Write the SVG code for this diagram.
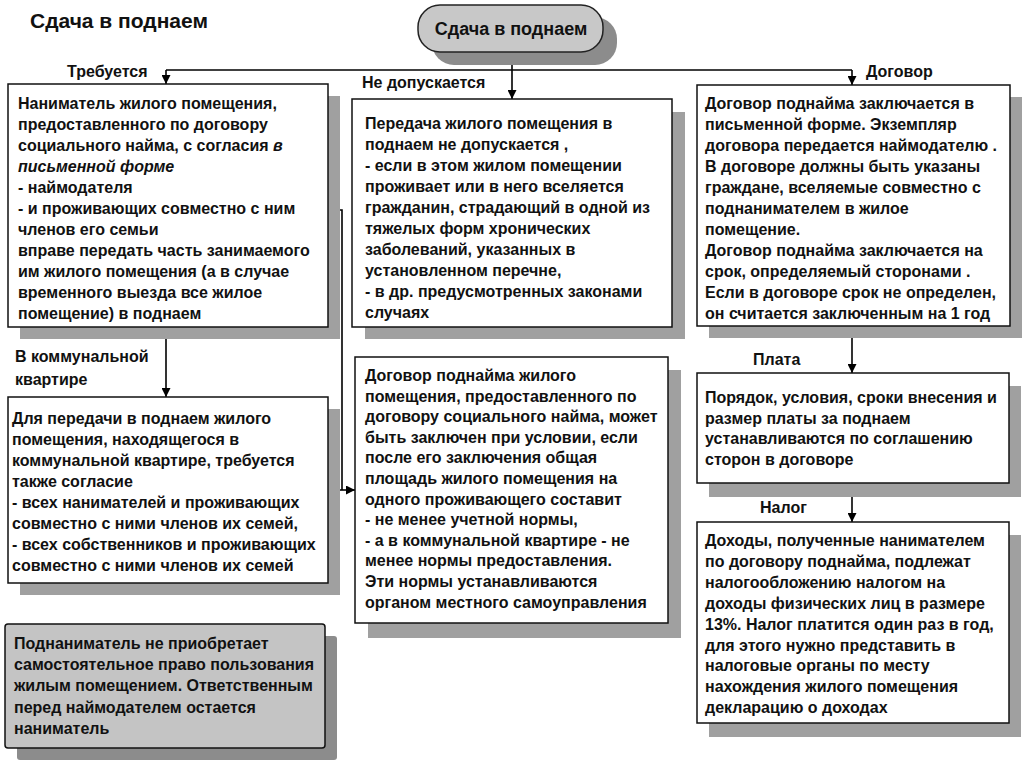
<svg xmlns="http://www.w3.org/2000/svg" width="1024" height="767" viewBox="0 0 1024 767">
<defs>
<marker id="arr" viewBox="0 0 10 10" refX="10" refY="5" markerWidth="9" markerHeight="9" markerUnits="userSpaceOnUse" orient="auto">
<path d="M0,0 L10,5 L0,10 z" fill="#000"/>
</marker>
</defs>
<style>
text{font-family:"Liberation Sans",Arial,sans-serif;font-weight:bold;fill:#111;}
.t{font-size:16px;}
.lbl{font-size:16px;}
.box{fill:#fff;stroke:#111;stroke-width:1.5;}
.shd{fill:#a0a0a0;}
.gbox{fill:#c4c4c4;stroke:#111;stroke-width:1.5;}
.ln{fill:none;stroke:#000;stroke-width:1.6;}
.it{font-style:italic;}
</style>
<rect width="1024" height="767" fill="#fff"/>
<text x="30" y="28" font-size="21">Сдача в поднаем</text>

<g id="connectors">
<line class="ln" x1="512" y1="52" x2="512" y2="99" marker-end="url(#arr)"/>
<line class="ln" x1="166" y1="70" x2="852" y2="70"/>
<line class="ln" x1="166" y1="70" x2="166" y2="84" marker-end="url(#arr)"/>
<line class="ln" x1="852" y1="70" x2="852" y2="85" marker-end="url(#arr)"/>
<line class="ln" x1="166" y1="327" x2="166" y2="397" marker-end="url(#arr)"/>
<polyline class="ln" points="328,210 342,210 342,490"/>
<line class="ln" x1="328" y1="490" x2="355" y2="490" marker-end="url(#arr)"/>
<line class="ln" x1="852" y1="326" x2="852" y2="373" marker-end="url(#arr)"/>
<line class="ln" x1="852" y1="483" x2="852" y2="522" marker-end="url(#arr)"/>
<text class="lbl" x="67" y="77">Требуется</text>
<text class="lbl" x="362" y="88">Не допускается</text>
<text class="lbl" x="866" y="77">Договор</text>
<text class="lbl" x="15" y="362">В коммунальной</text>
<text class="lbl" x="15" y="385">квартире</text>
<text class="lbl" x="753" y="365">Плата</text>
<text class="lbl" x="760" y="513">Налог</text>
</g>

<g id="root">
<rect x="432" y="17" width="185" height="48" rx="22" fill="#8c8c8c"/>
<rect x="418" y="5" width="185" height="47" rx="22" fill="#c8c8c8" stroke="#222" stroke-width="1.5"/>
<text x="511" y="35" font-size="18" text-anchor="middle">Сдача в поднаем</text>
</g>

<g id="required">
<rect class="shd" x="20" y="96" width="320" height="243"/>
<rect class="box" x="8" y="84" width="320" height="243"/>
<text class="t" x="18" y="109">
<tspan x="18">Наниматель жилого помещения,</tspan>
<tspan x="18" dy="21">предоставленного по договору</tspan>
<tspan x="18" dy="21">социального найма, с согласия  <tspan class="it">в</tspan></tspan>
<tspan x="18" dy="21" class="it">письменной форме</tspan>
<tspan x="18" dy="21">- наймодателя</tspan>
<tspan x="18" dy="21">- и проживающих совместно с ним</tspan>
<tspan x="18" dy="21">членов его семьи</tspan>
<tspan x="18" dy="21">вправе передать часть занимаемого</tspan>
<tspan x="18" dy="21">им жилого помещения (а в случае</tspan>
<tspan x="18" dy="21">временного выезда все жилое</tspan>
<tspan x="18" dy="21">помещение) в поднаем</tspan>
</text>
</g>

<g id="notallowed">
<rect class="shd" x="365" y="112" width="320" height="227"/>
<rect class="box" x="352" y="99" width="320" height="228"/>
<text class="t" x="365" y="129">
<tspan x="365">Передача жилого помещения в</tspan>
<tspan x="365" dy="21">поднаем не допускается ,</tspan>
<tspan x="365" dy="21">- если в этом жилом помещении</tspan>
<tspan x="365" dy="21">проживает или в него вселяется</tspan>
<tspan x="365" dy="21">гражданин, страдающий в одной из</tspan>
<tspan x="365" dy="21">тяжелых форм хронических</tspan>
<tspan x="365" dy="21">заболеваний, указанных в</tspan>
<tspan x="365" dy="21">установленном перечне,</tspan>
<tspan x="365" dy="21">- в др. предусмотренных законами</tspan>
<tspan x="365" dy="21">случаях</tspan>
</text>
</g>

<g id="contract">
<rect class="shd" x="709" y="97" width="313" height="241"/>
<rect class="box" x="697" y="85" width="313" height="241"/>
<text class="t" x="705" y="109">
<tspan x="705">Договор поднайма заключается в</tspan>
<tspan x="705" dy="21">письменной форме.  Экземпляр</tspan>
<tspan x="705" dy="21">договора передается наймодателю .</tspan>
<tspan x="705" dy="21">В договоре должны быть указаны</tspan>
<tspan x="705" dy="21">граждане, вселяемые совместно с</tspan>
<tspan x="705" dy="21">поднанимателем в жилое</tspan>
<tspan x="705" dy="21">помещение.</tspan>
<tspan x="705" dy="21">Договор поднайма заключается на</tspan>
<tspan x="705" dy="21">срок, определяемый сторонами .</tspan>
<tspan x="705" dy="21">Если в договоре срок не определен,</tspan>
<tspan x="705" dy="21">он считается заключенным на 1 год</tspan>
</text>
</g>

<g id="communal">
<rect class="shd" x="20" y="409" width="320" height="186"/>
<rect class="box" x="8" y="397" width="320" height="186"/>
<text class="t" x="12" y="424">
<tspan x="12">Для передачи в поднаем жилого</tspan>
<tspan x="12" dy="21">помещения, находящегося в</tspan>
<tspan x="12" dy="21">коммунальной квартире, требуется</tspan>
<tspan x="12" dy="21">также согласие</tspan>
<tspan x="12" dy="21">- всех нанимателей и проживающих</tspan>
<tspan x="12" dy="21">совместно с ними членов их семей,</tspan>
<tspan x="12" dy="21">- всех собственников и проживающих</tspan>
<tspan x="12" dy="21">совместно с ними членов их семей</tspan>
</text>
</g>

<g id="sublease">
<rect class="shd" x="368" y="370" width="313" height="268"/>
<rect class="box" x="355" y="357" width="313" height="266"/>
<text class="t" x="365" y="381">
<tspan x="365">Договор поднайма жилого</tspan>
<tspan x="365" dy="20.6">помещения, предоставленного по</tspan>
<tspan x="365" dy="20.6">договору социального найма, может</tspan>
<tspan x="365" dy="20.6">быть заключен при условии, если</tspan>
<tspan x="365" dy="20.6">после его заключения общая</tspan>
<tspan x="365" dy="20.6">площадь жилого помещения на</tspan>
<tspan x="365" dy="20.6">одного проживающего составит</tspan>
<tspan x="365" dy="20.6">- не менее учетной нормы,</tspan>
<tspan x="365" dy="20.6">- а в коммунальной квартире - не</tspan>
<tspan x="365" dy="20.6">менее нормы предоставления.</tspan>
<tspan x="365" dy="20.6">Эти нормы устанавливаются</tspan>
<tspan x="365" dy="20.6">органом местного самоуправления</tspan>
</text>
</g>

<g id="payment">
<rect class="shd" x="709" y="386" width="312" height="111"/>
<rect class="box" x="697" y="373" width="312" height="110"/>
<text class="t" x="705" y="403">
<tspan x="705">Порядок, условия, сроки внесения и</tspan>
<tspan x="705" dy="20.7">размер платы за поднаем</tspan>
<tspan x="705" dy="20.7">устанавливаются по соглашению</tspan>
<tspan x="705" dy="20.7">сторон в договоре</tspan>
</text>
</g>

<g id="tax">
<rect class="shd" x="709" y="535" width="312" height="202"/>
<rect class="box" x="697" y="522" width="312" height="201"/>
<text class="t" x="705" y="546">
<tspan x="705">Доходы, полученные нанимателем</tspan>
<tspan x="705" dy="20.9">по договору поднайма, подлежат</tspan>
<tspan x="705" dy="20.9">налогообложению налогом на</tspan>
<tspan x="705" dy="20.9">доходы физических лиц в размере</tspan>
<tspan x="705" dy="20.9">13%. Налог платится один раз в год,</tspan>
<tspan x="705" dy="20.9">для этого нужно представить в</tspan>
<tspan x="705" dy="20.9">налоговые органы по месту</tspan>
<tspan x="705" dy="20.9">нахождения жилого помещения</tspan>
<tspan x="705" dy="20.9">декларацию о доходах</tspan>
</text>
</g>

<g id="note">
<rect x="17" y="636" width="320" height="124" rx="3" fill="#8c8c8c"/>
<rect class="gbox" x="5" y="624" width="320" height="124" rx="3"/>
<text class="t" x="14" y="649">
<tspan x="14">Поднаниматель не приобретает</tspan>
<tspan x="14" dy="21.2">самостоятельное право пользования</tspan>
<tspan x="14" dy="21.2">жилым помещением. Ответственным</tspan>
<tspan x="14" dy="21.2">перед наймодателем остается</tspan>
<tspan x="14" dy="21.2">наниматель</tspan>
</text>
</g>
</svg>
